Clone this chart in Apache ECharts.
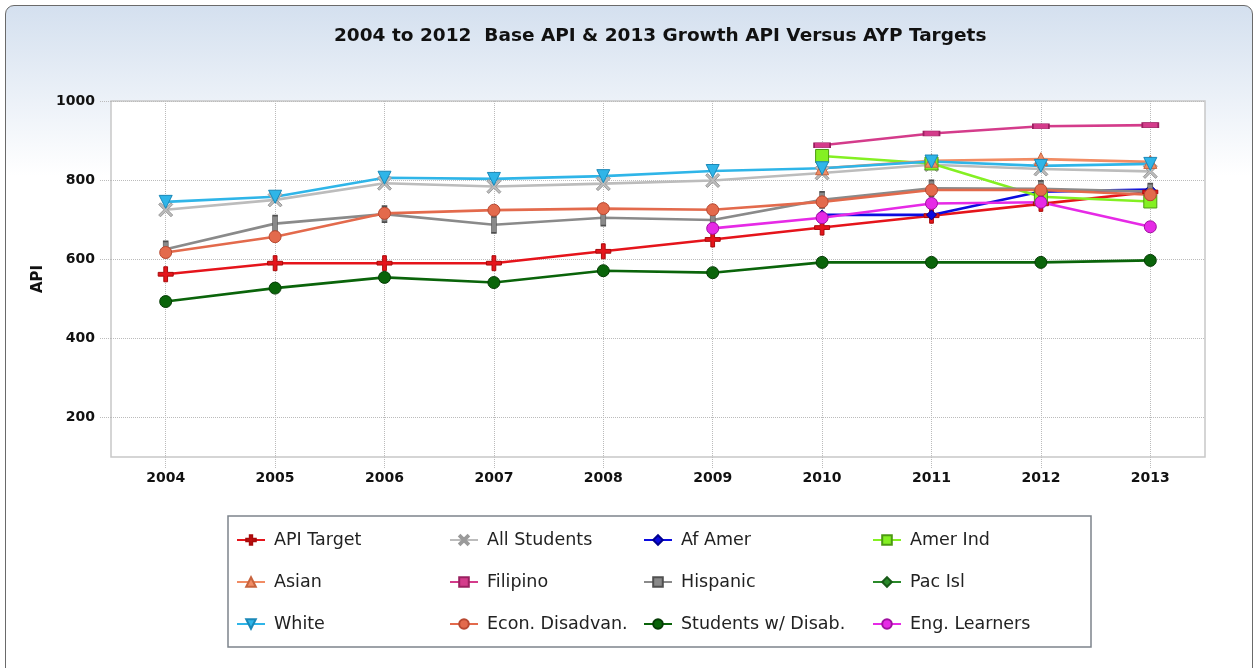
<!DOCTYPE html>
<html><head><meta charset="utf-8">
<script src="https://cdn.jsdelivr.net/npm/echarts@6/dist/echarts.min.js"></script>
<style>
html,body{margin:0;padding:0;background:#fff;overflow:hidden;}
#panel{position:absolute;left:5px;top:5px;width:1246px;height:700px;border:1.5px solid #6a6a6a;border-radius:9px;background:linear-gradient(#d4e0ef 0px,#fff 170px);}
#c{position:absolute;left:0;top:0;width:1256px;height:668px;}
</style></head>
<body><div id="panel"></div><div id="c"></div>
<script>
const years = ['2004','2005','2006','2007','2008','2009','2010','2011','2012','2013'];
const yTicks = [200,400,600,800,1000];
const apiTarget   = [562,590,590,590,620,650,680,710,740,770];
const allStudents = [725,750,792,784,791,799,818,839,828,822];
const afAmer      = [null,null,null,null,null,null,712,712,771,776];
const amerInd     = [null,null,null,null,null,null,861,842,758,746];
const asian       = [null,null,null,null,null,null,830,849,853,846];
const filipino    = [null,null,null,null,null,null,888,918,936,939];
const hispanic    = [625,690,714,687,705,699,750,779,778,771];
const pacIsl      = [null,null,null,null,null,null,null,null,null,null];
const white       = [745,758,806,803,810,823,830,847,836,841];
const econ        = [617,657,716,724,728,725,745,775,775,763];
const swd         = [493,527,554,541,571,566,592,592,592,597];
const engLearners = [null,null,null,null,null,678,705,741,744,682];

const PLUS = 'path://M3,0H5V3H8V5H5V8H3V5H0V3H3Z';
const XSYM = 'path://M0,1L1,0L4,3L7,0L8,1L5,4L8,7L7,8L4,5L1,8L0,7L3,4Z';

function s(name, data, color, symbol, size, border, extra) {
  return Object.assign({
    name, type:'line', data, symbol, symbolSize:size,
    lineStyle:{color, width:2.6},
    itemStyle:{color, borderColor:border||color, borderWidth:1},
    emphasis:{disabled:true}, animation:false
  }, extra||{});
}
const series = [
  s('API Target', apiTarget, '#e5141b', PLUS, 15, '#a80a0a'),
  s('All Students', allStudents, '#bcbcbc', XSYM, 14, '#9a9a9a'),
  s('Af Amer', afAmer, '#0b0be0', 'diamond', 10, '#000090'),
  s('Amer Ind', amerInd, '#84f022', 'rect', 13, '#4c9a12'),
  s('Asian', asian, '#f18c64', 'triangle', 13, '#c8643e'),
  s('Filipino', filipino, '#d43c8b', 'rect', [16,5], '#9a2060'),
  s('Hispanic', hispanic, '#8a8a8a', 'rect', [5,16], '#505050'),
  s('Pac Isl', pacIsl, '#2a8a2a', 'diamond', 10, '#185a18'),
  s('White', white, '#2fb5e8', 'triangle', 13, '#1a88b8', {symbolRotate:180}),
  s('Econ. Disadvan.', econ, '#e36a4c', 'circle', 12, '#b84830'),
  s('Students w/ Disab.', swd, '#0a640a', 'circle', 12, '#053c05'),
  s('Eng. Learners', engLearners, '#e62ae6', 'circle', 12, '#a010a0')
];

const legendBase = {
  orient:'vertical', itemWidth:28, itemHeight:12, itemGap:24, padding:0,
  textStyle:{fontFamily:'DejaVu Sans', fontSize:17.5, color:'#222', lineHeight:18, padding:[0,0,0,4]},
  selectedMode:false, top:531
};
const chart = echarts.init(document.getElementById('c'), null, {renderer:'canvas'});
chart.setOption({
  backgroundColor:'transparent',
  animation:false,
  title:{text:'2004 to 2012  Base API & 2013 Growth API Versus AYP Targets', left:329, top:22,
    textStyle:{fontFamily:'DejaVu Sans', fontSize:18.5, fontWeight:'bold', color:'#111'}},
  grid:{left:111, top:101, width:1094, height:356, show:true, backgroundColor:'#fff', borderColor:'#c8c8c8', borderWidth:1.5},
  xAxis:{type:'category', data:years, boundaryGap:true,
    axisLine:{show:false},
    axisTick:{show:true, alignWithLabel:true, length:12, lineStyle:{color:'#bbb', type:'dotted'}},
    splitLine:{show:true, alignWithLabel:true, lineStyle:{color:'#bbb', type:'dotted'}},
    axisLabel:{margin:14, fontFamily:'DejaVu Sans', fontSize:14, fontWeight:'bold', color:'#111'}},
  yAxis:{type:'value', min:100, max:1000,
    name:'API', nameLocation:'middle', nameGap:62, nameRotate:90,
    nameTextStyle:{fontFamily:'DejaVu Sans', fontSize:15, fontWeight:'bold', color:'#111'},
    axisLine:{show:false},
    axisTick:{show:true, customValues:yTicks, length:11, lineStyle:{color:'#bbb', type:'dotted'}},
    splitLine:{show:true, lineStyle:{color:'#bbb', type:'dotted'}},
    axisLabel:{customValues:yTicks, formatter:v => String(v), margin:16, fontFamily:'DejaVu Sans', fontSize:14, fontWeight:'bold', color:'#111'}},
  legend:[
    Object.assign({left:236, data:['API Target','Asian','White']}, legendBase),
    Object.assign({left:449, data:['All Students','Filipino','Econ. Disadvan.']}, legendBase),
    Object.assign({left:643, data:['Af Amer','Hispanic','Students w/ Disab.']}, legendBase),
    Object.assign({left:872, data:['Amer Ind','Pac Isl','Eng. Learners']}, legendBase)
  ],
  graphic:[{type:'rect', shape:{x:228, y:516, width:863, height:131}, style:{fill:null, stroke:'#7d848c', lineWidth:1.5}, silent:true}],
  series
});
</script></body></html>
